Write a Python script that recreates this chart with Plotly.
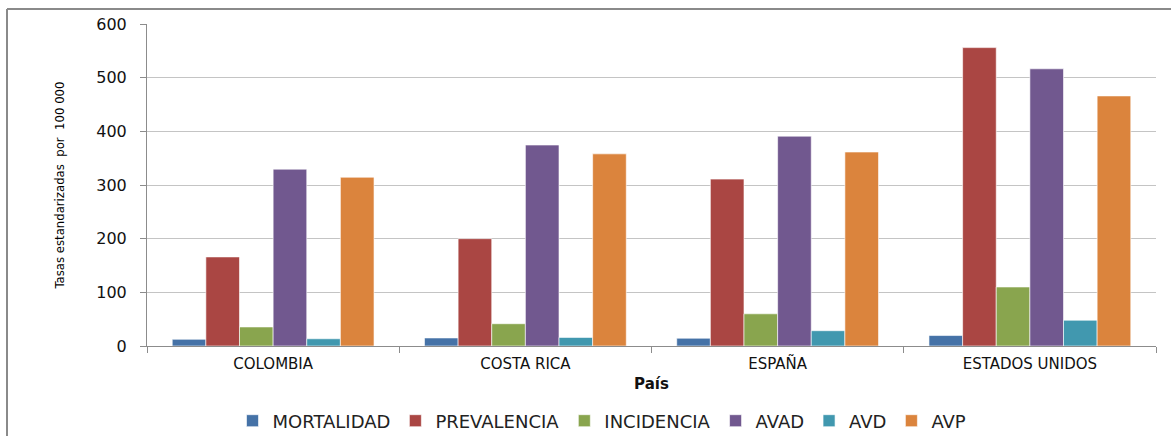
import plotly.graph_objects as go

paises = ["COLOMBIA", "COSTA RICA", "ESPAÑA", "ESTADOS UNIDOS"]
mortalidad = [12.5, 15, 14.5, 19.5]
prevalencia = [166, 200, 311, 556]
incidencia = [35.5, 41.5, 60, 110]
avad = [329.5, 374.5, 391, 516.5]
avd = [13.5, 16, 28.5, 48]
avp = [314.5, 358, 361.5, 466]

series = [
    ("MORTALIDAD", mortalidad, "#4572A7"),
    ("PREVALENCIA", prevalencia, "#AA4643"),
    ("INCIDENCIA", incidencia, "#89A54E"),
    ("AVAD", avad, "#71588F"),
    ("AVD", avd, "#4198AF"),
    ("AVP", avp, "#DB843D"),
]

fig = go.Figure()
for name, vals, col in series:
    fig.add_trace(go.Bar(
        name=name, x=paises, y=vals,
        marker=dict(color=col, line=dict(color="rgba(255,255,255,0.6)", width=1)),
    ))

W, H = 1171, 436
L, R, T, B = 147, 15, 24, 90
pw, ph = W - L - R, H - T - B

def px_x(x):
    return (x - L) / pw

def px_y(y):
    return (H - B - y) / ph

fig.update_layout(
    width=W, height=H,
    margin=dict(l=L, r=R, t=T, b=B, pad=0, autoexpand=False),
    paper_bgcolor="white", plot_bgcolor="white",
    barmode="group", bargap=0.2, bargroupgap=0,
    font=dict(family="DejaVu Sans", color="#000000"),
    showlegend=True,
    legend=dict(
        orientation="h", x=px_x(602), xanchor="center", y=px_y(421), yanchor="middle",
        font=dict(family="DejaVu Sans", size=18, color="#222"),
        itemwidth=30, tracegroupgap=0, bgcolor="rgba(0,0,0,0)",
    ),
    xaxis=dict(
        showline=True, linecolor="#8c8c8c", linewidth=1,
        ticks="outside", ticklen=6, tickcolor="#8c8c8c", tickson="boundaries",
        tickfont=dict(family="DejaVu Sans", size=15, color="#111"),
        ticklabelstandoff=4,
        showgrid=False, automargin=False,
        title=dict(text="<b>País</b>", font=dict(family="DejaVu Sans", size=15, color="#111"), standoff=6),
    ),
    yaxis=dict(
        range=[0, 600], dtick=100,
        showline=True, linecolor="#8c8c8c", linewidth=1,
        ticks="outside", ticklen=6, tickcolor="#8c8c8c",
        showgrid=True, gridcolor="#c4c4c4", gridwidth=1,
        tickfont=dict(family="DejaVu Sans", size=16, color="#111"),
        ticklabelstandoff=10,
        zeroline=False, automargin=False,
        title=dict(text="Tasas estandarizadas  por  100 000",
                   font=dict(family="Liberation Sans Narrow, DejaVu Sans Condensed, Arial Narrow, sans-serif", size=13, color="#000"),
                   standoff=28),
    ),
    shapes=[
        dict(type="line", xref="paper", yref="paper", x0=px_x(7), x1=1.1, y0=px_y(9), y1=px_y(9),
             line=dict(color="#8a8a8a", width=2)),
        dict(type="line", xref="paper", yref="paper", x0=px_x(7), x1=px_x(7), y0=px_y(9), y1=px_y(440),
             line=dict(color="#8a8a8a", width=2)),
    ],
)

fig.write_html("out.html")
